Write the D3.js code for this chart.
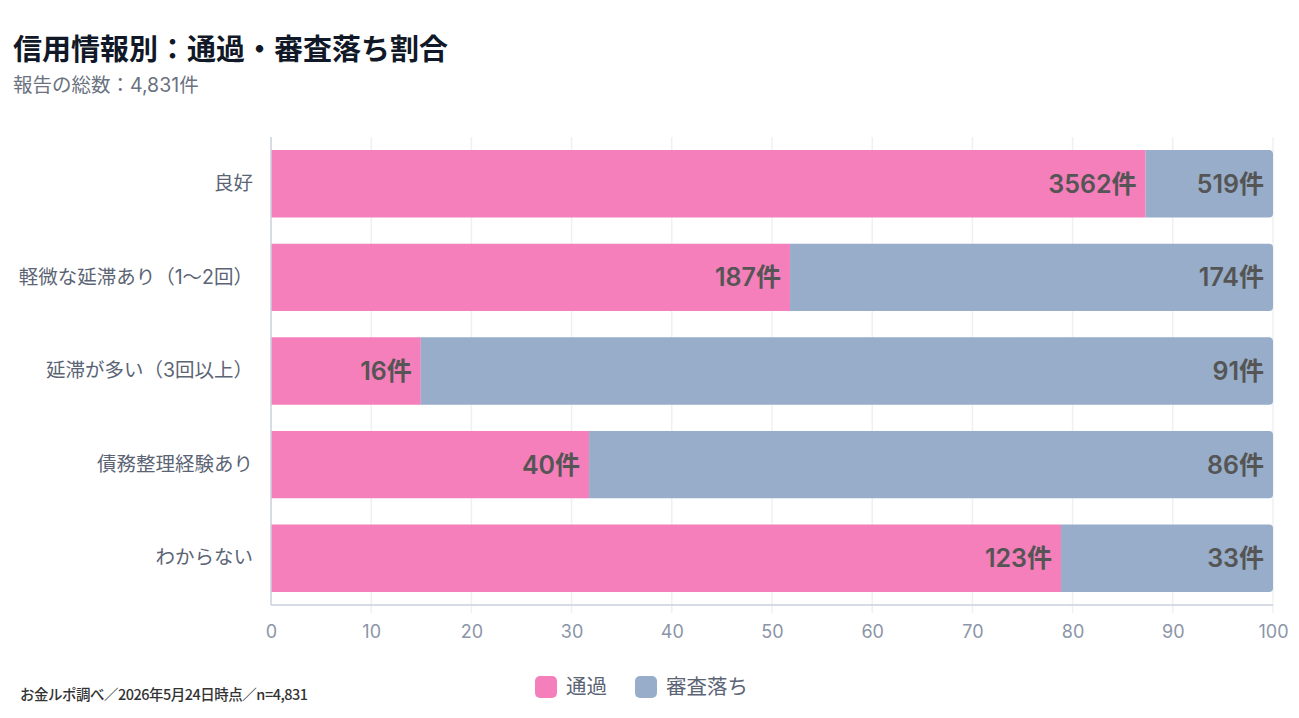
<!DOCTYPE html>
<html lang="ja">
<head>
<meta charset="utf-8">
<script src="https://cdn.jsdelivr.net/npm/d3@7"></script>
<style>
  body { margin: 0; background: #fff; font-family: Inter, "Noto Sans CJK JP", sans-serif; }
  svg text { font-family: Inter, "Noto Sans CJK JP", sans-serif; }
</style>
</head>
<body>
<div id="vis"></div>
<script>
// Data
const categories = ['良好', '軽微な延滞あり（1〜2回）', '延滞が多い（3回以上）', '債務整理経験あり', 'わからない'];
const passed = [3562, 187, 16, 40, 123];
const rejected = [519, 174, 91, 86, 33];
const seriesNames = ['通過', '審査落ち'];
const xTicks = [0, 10, 20, 30, 40, 50, 60, 70, 80, 90, 100];

const colors = ['#F47FBA', '#97ADC9'];

const W = 1299, H = 718;
const margin = { left: 271, right: 26, top: 137, bottom: 113 };
const width = W - margin.left - margin.right;
const height = H - margin.top - margin.bottom;

const svg = d3.select('#vis').append('svg')
  .attr('width', W)
  .attr('height', H);

// title block
svg.append('text')
  .attr('x', 13).attr('y', 60)
  .attr('font-size', 29).attr('font-weight', 700)
  .attr('fill', '#111827')
  .text('信用情報別：通過・審査落ち割合');

svg.append('text')
  .attr('x', 13).attr('y', 92)
  .attr('font-size', 19.5)
  .attr('fill', '#6b7280')
  .text('報告の総数：4,831件');

const g = svg.append('g')
  .attr('transform', `translate(${margin.left}, ${margin.top})`);

const xScale = d3.scaleLinear().domain([0, 100]).range([0, width]);
const yScale = d3.scaleBand().domain(categories).range([0, height])
  .paddingInner(0.28).paddingOuter(0.14);

// grid lines
g.selectAll('.grid').data(xTicks.slice(1)).enter().append('line')
  .attr('x1', d => xScale(d)).attr('x2', d => xScale(d))
  .attr('y1', 0).attr('y2', height + 8)
  .attr('stroke', '#eef0f5').attr('stroke-width', 1.5);

// stacked data as percentages
const rows = categories.map((c, i) => {
  const total = passed[i] + rejected[i];
  const p = passed[i] / total * 100;
  return [
    { cat: c, x0: 0, x1: p, n: passed[i], s: 0 },
    { cat: c, x0: p, x1: 100, n: rejected[i], s: 1 }
  ];
});
const segs = rows.flat();

// pink segments: plain rect; blue segments: rounded right end
const r = 4;
g.selectAll('.seg').data(segs).enter().append('path')
  .attr('fill', d => colors[d.s])
  .attr('d', d => {
    const x0 = xScale(d.x0), x1 = xScale(d.x1);
    const y0 = yScale(d.cat), h = yScale.bandwidth();
    if (d.s === 0) return `M${x0},${y0}H${x1}V${y0 + h}H${x0}Z`;
    return `M${x0},${y0}H${x1 - r}Q${x1},${y0} ${x1},${y0 + r}V${y0 + h - r}Q${x1},${y0 + h} ${x1 - r},${y0 + h}H${x0}Z`;
  });

// value labels
g.selectAll('.val').data(segs).enter().append('text')
  .attr('x', d => xScale(d.x1) - 9)
  .attr('y', d => yScale(d.cat) + yScale.bandwidth() / 2)
  .attr('dy', '0.36em')
  .attr('text-anchor', 'end')
  .attr('font-size', 25).attr('font-weight', 600)
  .attr('fill', '#555555')
  .text(d => d.n + '件');

// axes
g.append('line')
  .attr('x1', 0).attr('x2', 0).attr('y1', 0).attr('y2', height)
  .attr('stroke', '#c8d0de').attr('stroke-width', 1.5);
g.append('line')
  .attr('x1', 0).attr('x2', width).attr('y1', height).attr('y2', height)
  .attr('stroke', '#c8d0de').attr('stroke-width', 1.5);

const xAxis = d3.axisBottom(xScale).tickValues(xTicks).tickSize(0).tickPadding(20);
const xa = g.append('g').attr('transform', `translate(0, ${height})`).call(xAxis);
xa.select('.domain').remove();
xa.selectAll('text').attr('font-size', 18).attr('fill', '#8b95a7')
  .style('font-family', 'Inter, "Noto Sans CJK JP", sans-serif');

const yAxis = d3.axisLeft(yScale).tickSize(0).tickPadding(18);
const ya = g.append('g').call(yAxis);
ya.select('.domain').remove();
ya.selectAll('text').attr('font-size', 19.5).attr('fill', '#5b6475')
  .style('font-family', 'Inter, "Noto Sans CJK JP", sans-serif');

// legend
const legend = svg.append('g').attr('transform', 'translate(535, 676)');
const legendX = [0, 100];
seriesNames.forEach((name, i) => {
  const lg = legend.append('g').attr('transform', `translate(${legendX[i]}, 0)`);
  lg.append('rect').attr('width', 22).attr('height', 22).attr('rx', 5)
    .attr('fill', colors[i]);
  lg.append('text').attr('x', 31).attr('y', 11).attr('dy', '0.36em')
    .attr('font-size', 20.5).attr('fill', '#5b6475')
    .text(name);
});

// footer
svg.append('text')
  .attr('x', 20).attr('y', 700)
  .attr('font-size', 14.5).attr('font-weight', 500)
  .attr('fill', '#333333')
  .attr('letter-spacing', '-0.5')
  .style('font-family', '"Noto Sans CJK JP", sans-serif')
  .text('お金ルポ調べ／2026年5月24日時点／n=4,831');
</script>
</body>
</html>
